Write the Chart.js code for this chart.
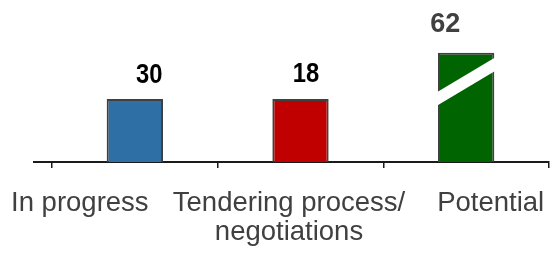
<!DOCTYPE html>
<html>
<head>
<meta charset="utf-8">
<script src="https://cdn.jsdelivr.net/npm/chart.js@4"></script>
<style>
    html, body { margin: 0; padding: 0; background: #fff; }
    #wrap { width: 553px; height: 253px; position: relative; }
</style>
</head>
<body>
<div id="wrap"><canvas id="chart"></canvas></div>
<script>
// --- Data ---
const categories = [['In progress'], ['Tendering process/', 'negotiations'], ['Potential']];
const values = [30, 18, 62];          // printed value above each bar
const drawnHeights = [30, 30, 52];    // bar heights as drawn (chart is not to scale, last bar is broken)

// --- Plugins ---
const FONT = "'Liberation Sans', Arial, sans-serif";

// value labels above the bars (first two use a narrow bold face)
const valueLabels = {
    id: 'valueLabels',
    afterDatasetsDraw(chart) {
        const ctx = chart.ctx;
        const meta = chart.getDatasetMeta(0);
        const dx = [14.5, 5.5, -21];
        const lift = [16, 17, 21];
        meta.data.forEach((bar, i) => {
            ctx.save();
            ctx.textAlign = 'center';
            ctx.textBaseline = 'alphabetic';
            ctx.translate(bar.x + dx[i], bar.y - lift[i]);
            if (i < 2) {
                ctx.font = 'bold 28px ' + FONT;
                ctx.fillStyle = '#000';
                ctx.scale(0.85, 1);
            } else {
                ctx.font = 'bold 27px ' + FONT;
                ctx.fillStyle = '#404040';
            }
            ctx.fillText(String(values[i]), 0, 0);
            ctx.restore();
        });
    }
};

// white diagonal break across the tall bar
const barBreak = {
    id: 'barBreak',
    afterDatasetsDraw(chart) {
        const ctx = chart.ctx;
        const bar = chart.getDatasetMeta(0).data[2];
        const l = bar.x - bar.width / 2 - 2;
        const r = bar.x + bar.width / 2 + 2;
        const t = bar.y;
        ctx.save();
        ctx.fillStyle = '#fff';
        ctx.beginPath();
        ctx.moveTo(l, t + 40);
        ctx.lineTo(r, t + 4);
        ctx.lineTo(r, t + 17.5);
        ctx.lineTo(l, t + 53.5);
        ctx.closePath();
        ctx.fill();
        ctx.restore();
    }
};

// category labels and the baseline stub to the left of the first tick
const axisExtras = {
    id: 'axisExtras',
    afterDraw(chart) {
        const ctx = chart.ctx;
        const xs = chart.scales.x;
        const area = chart.chartArea;
        ctx.save();
        ctx.strokeStyle = '#1a1a1a';
        ctx.lineWidth = 2;
        ctx.beginPath();
        ctx.moveTo(33, area.bottom);
        ctx.lineTo(area.left, area.bottom);
        ctx.stroke();

        const dx = [-55, -11.5, 24.5];
        ctx.font = '27.5px ' + FONT;
        ctx.fillStyle = '#404040';
        ctx.textAlign = 'center';
        ctx.textBaseline = 'alphabetic';
        categories.forEach((lines, i) => {
            const x = xs.getPixelForValue(i) + dx[i];
            lines.forEach((line, j) => {
                ctx.fillText(line, x, 211 + j * 29);
            });
        });
        ctx.restore();
    }
};

// --- Chart ---
new Chart(document.getElementById('chart'), {
    type: 'bar',
    data: {
        labels: categories,
        datasets: [{
            data: drawnHeights,
            backgroundColor: ['#2E70A6', '#C00000', '#006400'],
            borderColor: '#404040',
            borderWidth: 2,
            borderSkipped: 'bottom',
            categoryPercentage: 1,
            barPercentage: 0.34
        }]
    },
    options: {
        responsive: true,
        maintainAspectRatio: false,
        animation: false,
        layout: { padding: { left: 52, right: 4, top: 15, bottom: 85 } },
        plugins: {
            legend: { display: false },
            tooltip: { enabled: false }
        },
        scales: {
            x: {
                offset: true,
                ticks: { display: false },
                grid: {
                    offset: true,
                    drawOnChartArea: false,
                    drawTicks: true,
                    tickLength: 6,
                    color: '#1a1a1a',
                    lineWidth: 1.5
                },
                border: { display: true, color: '#1a1a1a', width: 2 }
            },
            y: {
                display: false,
                min: 0,
                max: 70
            }
        }
    },
    plugins: [valueLabels, barBreak, axisExtras]
});
</script>
</body>
</html>
